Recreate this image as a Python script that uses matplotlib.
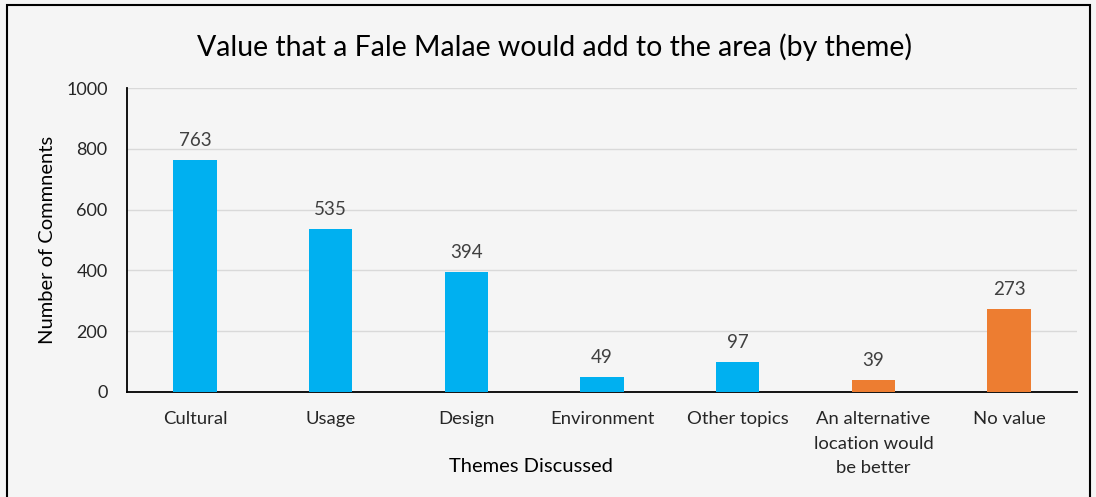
import matplotlib
matplotlib.use("Agg")
import matplotlib.pyplot as plt
from matplotlib.patches import Rectangle

categories = ["Cultural", "Usage", "Design", "Environment", "Other topics",
              "An alternative\nlocation would\nbe better", "No value"]
counts = [763, 535, 394, 49, 97, 39, 273]
colors = ["#00B0F0"] * 5 + ["#ED7D31"] * 2
yticks = [0, 200, 400, 600, 800, 1000]

plt.rcParams["font.family"] = ["Lato", "DejaVu Sans"]
bg = "#f5f5f5"
text_col = "#262626"
label_col = "#404040"

fig = plt.figure(figsize=(10.96, 4.97), dpi=100, facecolor=bg)
ax = fig.add_axes([0.1159, 0.2113, 0.8668, 0.6116], facecolor=bg)

x = range(len(categories))
bars = ax.bar(x, counts, width=0.32, color=colors, zorder=3)
for b, v in zip(bars, counts):
    ax.annotate(str(v), (b.get_x() + b.get_width() / 2, v), xytext=(0, 8),
                textcoords="offset points", ha="center", va="bottom",
                fontsize=13.5, color=label_col)

ax.set_xlim(-0.5, len(categories) - 0.5)
ax.set_ylim(0, 1000)
ax.set_yticks(yticks)
ax.set_xticks(list(x))
ax.set_xticklabels(categories, fontsize=13.3, color=text_col)
for lbl in ax.get_xticklabels():
    lbl.set_linespacing(1.68)
ax.tick_params(axis="y", length=0, labelsize=13, labelcolor=text_col, pad=14)
ax.tick_params(axis="x", length=0, pad=13.5)
ax.grid(axis="y", color="#d9d9d9", linewidth=1, zorder=0)
for s in ["top", "right"]:
    ax.spines[s].set_visible(False)
ax.spines["left"].set_color("black")
ax.spines["bottom"].set_color("black")
ax.spines["left"].set_linewidth(1.3)
ax.spines["bottom"].set_linewidth(1.3)

ax.set_ylabel("Number of Commnents", fontsize=14.5, color="black", va="center")
ax.yaxis.set_label_coords(-0.084, 0.5)
ax.set_xlabel("Themes Discussed", fontsize=14.5, color="black", va="center")
ax.xaxis.set_label_coords(0.425, -0.245)
fig.text(0.5055, 0.905, "Value that a Fale Malae would add to the area (by theme)",
         ha="center", va="center", fontsize=20.5, color="black")

fig.patches.append(Rectangle((7 / 1096, -0.01), 1083 / 1096, 1 - 5 / 497 + 0.01,
                             transform=fig.transFigure, fill=False,
                             edgecolor="black", linewidth=1.5))

fig.savefig("out.png", dpi=100, facecolor=bg)
